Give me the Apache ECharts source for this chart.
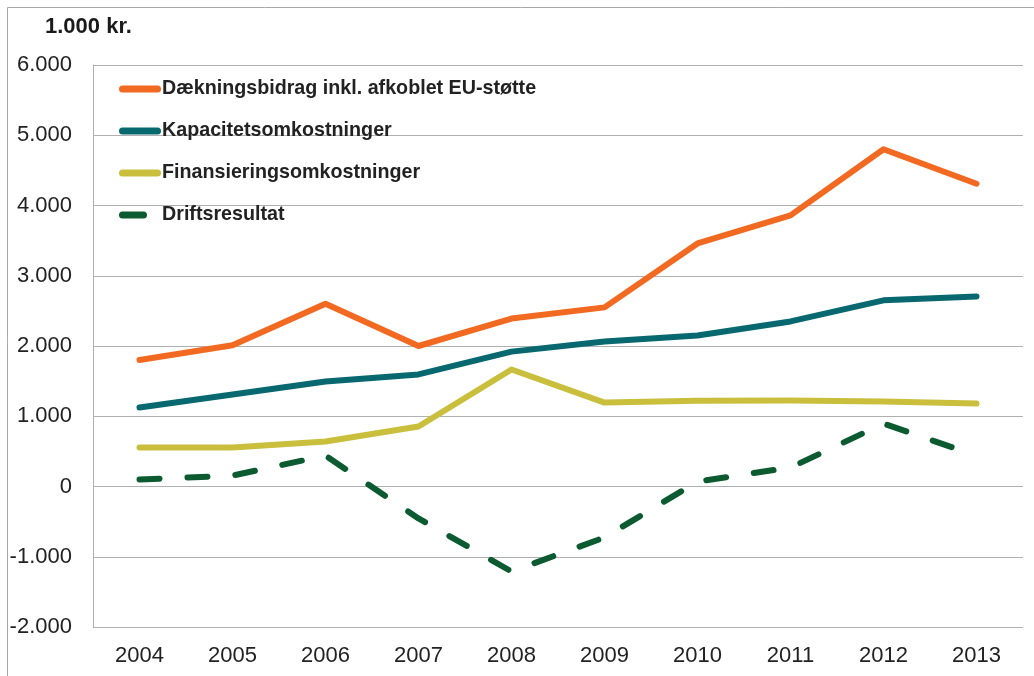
<!DOCTYPE html>
<html><head><meta charset="utf-8">
<script src="https://cdn.jsdelivr.net/npm/echarts@6/dist/echarts.min.js"></script>
<style>html,body{margin:0;padding:0;background:#fff}#c{width:1034px;height:676px}</style>
</head><body><div id="c"></div>
<script>
const years = ['2004','2005','2006','2007','2008','2009','2010','2011','2012','2013'];
const daekningsbidrag = [1800, 2010, 2600, 2000, 2390, 2550, 3460, 3860, 4800, 4310];
const kapacitet = [1125, 1310, 1495, 1595, 1920, 2065, 2150, 2350, 2650, 2705];
const finansiering = [555, 555, 640, 855, 1665, 1195, 1220, 1225, 1210, 1180];
const drift = [100, 155, 440, -455, -1210, -725, 70, 270, 895, 440];
const seriesNames = ['Dækningsbidrag inkl. afkoblet EU-støtte','Kapacitetsomkostninger','Finansieringsomkostninger','Driftsresultat'];
const colors = ['#F26A22','#076870','#C9BF3D','#0C5A30'];

const chart = echarts.init(document.getElementById('c'));
const fmt = v => { const s = Math.abs(v).toString().replace(/\B(?=(\d{3})+(?!\d))/g,'.'); return (v<0?'-':'')+s; };
const mk = (name, data, color, dashed) => ({
  name, type:'line', data, symbol:'none', smooth:false,
  lineStyle:{color, width:6, cap:'round', join:'round', type: dashed ? [20,28] : 'solid'},
  itemStyle:{color}
});
const solidIcon = 'path://M3.5,0H38.5A3.5,3.5 0 0 1 38.5,7H3.5A3.5,3.5 0 0 1 3.5,0Z';
const dashIcon = 'path://M3.5,0H24.5A3.5,3.5 0 0 1 24.5,7H3.5A3.5,3.5 0 0 1 3.5,0ZM41.99,3.5H42V3.51H41.99Z';
chart.setOption({
  animation:false,
  textStyle:{fontFamily:'Liberation Sans, Arial, sans-serif'},
  graphic:[
    {type:'rect', shape:{x:7.5,y:7.5,width:1100,height:800}, style:{fill:'none',stroke:'#a8a8a8',lineWidth:1}, silent:true},
    {type:'text', left:45, top:16, style:{text:'1.000 kr.', font:'bold 22px "Liberation Sans", Arial, sans-serif', fill:'#1a1a1a'}}
  ],
  grid:{left:93, right:11, top:65, bottom:49},
  legend:{
    orient:'vertical', left:114, top:74, itemWidth:42, itemHeight:7, itemGap:22,
    textStyle:{fontSize:19.7, fontWeight:'bold', color:'#222', padding:[0,0,0,-4]},
    data: seriesNames.map((n,i)=>({name:n, icon: i===3 ? dashIcon : solidIcon}))
  },
  xAxis:{
    type:'category', data:years, boundaryGap:true,
    axisLine:{show:false}, axisTick:{show:false},
    axisLabel:{fontSize:22, color:'#222', margin:18}
  },
  yAxis:{
    type:'value', min:-2000, max:6000, interval:1000,
    axisLine:{show:true, lineStyle:{color:'#b0b0b0', width:1}},
    axisTick:{show:false},
    splitLine:{lineStyle:{color:'#b0b0b0', width:1}},
    axisLabel:{fontSize:22, color:'#222', margin:21, formatter:fmt}
  },
  series:[
    mk(seriesNames[0], daekningsbidrag, colors[0]),
    mk(seriesNames[1], kapacitet, colors[1]),
    mk(seriesNames[2], finansiering, colors[2]),
    mk(seriesNames[3], drift, colors[3], true)
  ]
});
</script></body></html>
